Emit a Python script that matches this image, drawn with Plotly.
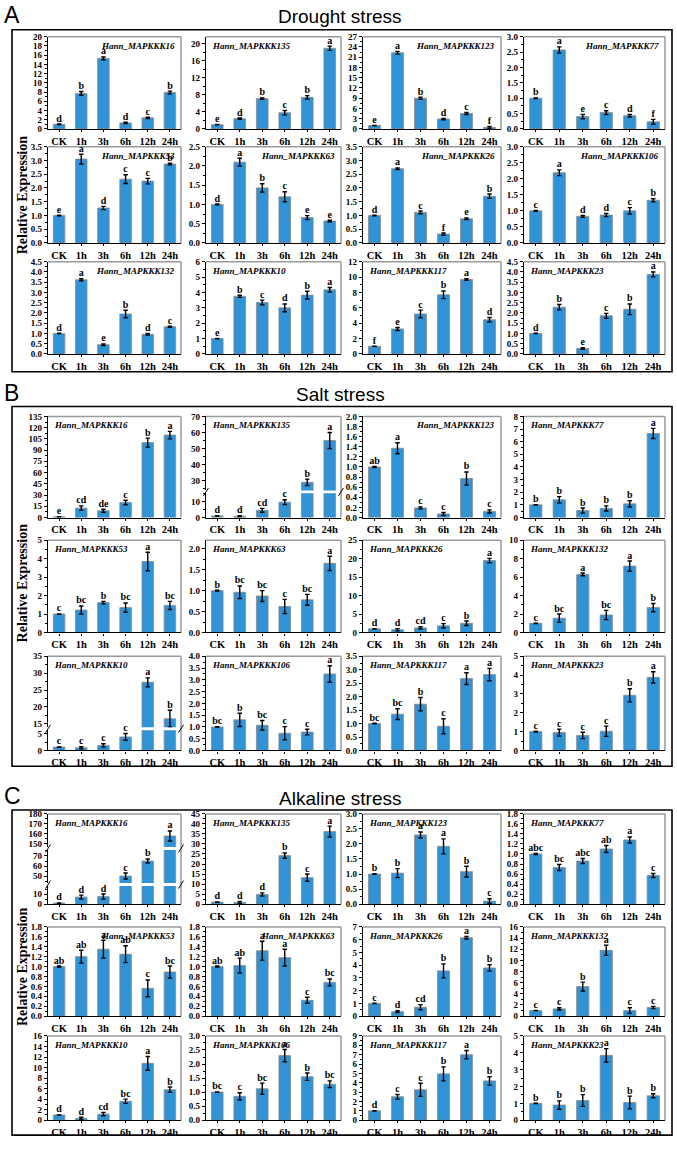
import plotly.graph_objects as go

W, H = 677, 1149
times = ["CK", "1h", "3h", "6h", "12h", "24h"]

# ---------------- Drought ----------------
drought_genes = ["Hann_MAPKKK16", "Hann_MAPKKK135", "Hann_MAPKKK123", "Hann_MAPKKK77",
                 "Hann_MAPKKK53", "Hann_MAPKKK63", "Hann_MAPKKK26", "Hann_MAPKKK106",
                 "Hann_MAPKKK132", "Hann_MAPKKK10", "Hann_MAPKKK117", "Hann_MAPKKK23"]
drought_mean = [[1.0, 7.7, 15.3, 1.3, 2.4, 7.9], [1.0, 2.4, 7.1, 3.8, 7.4, 18.9],
                [1.0, 22.3, 9.0, 2.9, 4.5, 0.4], [1.0, 2.57, 0.40, 0.53, 0.43, 0.23],
                [1.0, 3.05, 1.27, 2.32, 2.25, 2.87], [1.0, 2.1, 1.43, 1.2, 0.66, 0.57],
                [1.0, 2.7, 1.11, 0.32, 0.88, 1.7], [1.0, 2.19, 0.83, 0.87, 1.0, 1.33],
                [1.0, 3.62, 0.45, 1.95, 0.96, 1.33], [1.0, 3.75, 3.35, 3.0, 3.83, 4.17],
                [1.0, 3.25, 5.2, 7.7, 9.7, 4.45], [1.0, 2.28, 0.27, 1.86, 2.18, 3.88]]
drought_err = [[0.05, 0.4, 0.3, 0.15, 0.15, 0.3], [0.05, 0.15, 0.15, 0.5, 0.4, 0.5],
               [0.05, 0.4, 0.3, 0.2, 0.3, 0.3], [0.01, 0.1, 0.07, 0.06, 0.04, 0.08],
               [0.01, 0.18, 0.06, 0.16, 0.1, 0.03], [0.01, 0.1, 0.11, 0.13, 0.05, 0.02],
               [0.01, 0.03, 0.05, 0.04, 0.03, 0.08], [0.01, 0.09, 0.03, 0.05, 0.1, 0.05],
               [0.01, 0.05, 0.04, 0.18, 0.04, 0.03], [0.01, 0.07, 0.15, 0.25, 0.25, 0.15],
               [0.02, 0.2, 0.5, 0.5, 0.1, 0.3], [0.01, 0.13, 0.04, 0.12, 0.26, 0.12]]
drought_sig = [["d", "b", "a", "d", "c", "b"], ["e", "d", "b", "c", "b", "a"],
               ["e", "a", "b", "d", "c", "f"], ["b", "a", "e", "c", "d", "f"],
               ["e", "a", "d", "c", "c", "b"], ["d", "a", "b", "c", "e", "e"],
               ["d", "a", "c", "f", "e", "b"], ["c", "a", "d", "d", "c", "b"],
               ["d", "a", "e", "b", "d", "c"], ["e", "b", "c", "d", "b", "a"],
               ["f", "e", "c", "b", "a", "d"], ["d", "b", "e", "c", "b", "a"]]
drought_yaxis = [[(0, 20, 2)], [(0, 21.6, 4)], [(0, 27, 3)], [(0, 3.0, 0.5)],
                 [(0, 3.5, 0.5)], [(0, 2.5, 0.5)], [(0, 3.5, 0.5)], [(0, 3.0, 0.5)],
                 [(0, 4.5, 0.5)], [(0, 6, 1)], [(0, 12, 2)], [(0, 4.5, 0.5)]]
drought_side = ["r", "l", "r", "r", "r", "r", "r", "r", "r", "l", "l", "l"]

# ---------------- Salt ----------------
salt_genes = ["Hann_MAPKKK16", "Hann_MAPKKK135", "Hann_MAPKKK123", "Hann_MAPKKK77",
              "Hann_MAPKKK53", "Hann_MAPKKK63", "Hann_MAPKKK26", "Hann_MAPKKK132",
              "Hann_MAPKKK10", "Hann_MAPKKK106", "Hann_MAPKKK117", "Hann_MAPKKK23"]
salt_mean = [[0.9, 12.5, 9, 20, 100, 110], [1.0, 0.8, 4.5, 9.5, 29, 55],
             [1.0, 1.37, 0.19, 0.07, 0.77, 0.12], [1.0, 1.4, 0.55, 0.72, 1.08, 6.65],
             [1.0, 1.22, 1.62, 1.35, 3.85, 1.47], [1.0, 0.96, 0.87, 0.62, 0.78, 1.65],
             [1.0, 0.75, 1.25, 1.8, 2.5, 19.5], [1.0, 1.55, 6.3, 1.9, 7.2, 2.7],
             [1.0, 0.8, 1.5, 4.0, 27.3, 16.5], [1.0, 1.3, 1.07, 0.73, 0.78, 3.25],
             [1.0, 1.35, 1.72, 0.9, 2.67, 2.82], [1.0, 0.95, 0.8, 1.02, 2.93, 3.88]]
salt_err = [[0.2, 3, 2, 3, 6, 5], [0.1, 0.3, 1.2, 1.5, 2, 5],
            [0.01, 0.11, 0.02, 0.03, 0.13, 0.03], [0.02, 0.25, 0.2, 0.2, 0.25, 0.4],
            [0.01, 0.22, 0.07, 0.25, 0.5, 0.22], [0.01, 0.15, 0.13, 0.17, 0.13, 0.17],
            [0.05, 0.3, 0.3, 0.6, 0.6, 0.6], [0.02, 0.45, 0.15, 0.5, 0.55, 0.45],
            [0.05, 0.3, 0.5, 1.0, 1.3, 2.5], [0.01, 0.28, 0.2, 0.28, 0.12, 0.35],
            [0.01, 0.2, 0.25, 0.28, 0.22, 0.23], [0.02, 0.18, 0.17, 0.27, 0.35, 0.3]]
salt_sig = [["e", "cd", "de", "c", "b", "a"], ["d", "d", "cd", "c", "b", "a"],
            ["ab", "a", "c", "c", "b", "c"], ["b", "b", "b", "b", "b", "a"],
            ["c", "bc", "b", "bc", "a", "bc"], ["b", "bc", "bc", "c", "bc", "a"],
            ["d", "d", "cd", "c", "b", "a"], ["c", "bc", "a", "bc", "a", "b"],
            ["c", "c", "c", "c", "a", "b"], ["bc", "b", "bc", "c", "c", "a"],
            ["bc", "bc", "b", "c", "a", "a"], ["c", "c", "c", "c", "b", "a"]]
salt_yaxis = [[(0, 135, 15)], [(0, 15, 10), (24, 70, 10)], [(0, 2.0, 0.2)], [(0, 8, 1)],
              [(0, 5, 1)], [(0, 2.2, 0.5)], [(0, 25, 5)], [(0, 10, 2)],
              [(0, 6, 5), (14, 35, 5)], [(0, 4.0, 0.5)], [(0, 3.5, 0.5)], [(0, 5, 1)]]
salt_side = ["l", "l", "r", "l", "l", "l", "l", "l", "l", "l", "l", "l"]

# ---------------- Alkaline ----------------
alk_genes = ["Hann_MAPKKK16", "Hann_MAPKKK135", "Hann_MAPKKK123", "Hann_MAPKKK77",
             "Hann_MAPKKK53", "Hann_MAPKKK63", "Hann_MAPKKK26", "Hann_MAPKKK132",
             "Hann_MAPKKK10", "Hann_MAPKKK106", "Hann_MAPKKK117", "Hann_MAPKKK23"]
alk_mean = [[1.0, 7, 7.5, 50, 65, 158], [1.0, 0.8, 4.8, 24.2, 13.2, 36.2],
            [1.0, 1.03, 2.3, 1.92, 1.08, 0.1], [1.0, 0.73, 0.86, 1.1, 1.28, 0.57],
            [1.0, 1.2, 1.35, 1.25, 0.56, 0.89], [1.0, 1.02, 1.32, 1.18, 0.32, 0.68],
            [1.0, 0.35, 0.7, 3.55, 6.15, 3.78], [1.0, 1.3, 5.3, 11.8, 1.0, 1.55],
            [1.0, 0.35, 1.15, 3.6, 10.8, 5.8], [1.0, 0.85, 1.12, 2.3, 1.55, 1.28],
            [1.0, 2.5, 3.25, 4.95, 7.0, 4.2], [1.0, 0.9, 1.17, 3.85, 1.05, 1.45]]
alk_err = [[0.2, 2, 2.5, 3, 2, 5], [0.1, 0.5, 0.8, 1.3, 1.8, 2.7],
           [0.01, 0.15, 0.1, 0.25, 0.18, 0.08], [0.01, 0.06, 0.05, 0.07, 0.06, 0.04],
           [0.01, 0.13, 0.18, 0.17, 0.17, 0.12], [0.01, 0.15, 0.19, 0.17, 0.06, 0.07],
           [0.02, 0.07, 0.2, 0.55, 0.1, 0.25], [0.02, 0.2, 0.8, 0.9, 0.5, 0.2],
           [0.02, 0.2, 0.3, 0.4, 1.3, 0.5], [0.01, 0.13, 0.2, 0.22, 0.13, 0.12],
           [0.02, 0.25, 0.7, 0.75, 0.45, 0.45], [0.01, 0.25, 0.35, 0.4, 0.38, 0.12]]
alk_sig = [["d", "d", "d", "c", "b", "a"], ["d", "d", "d", "b", "c", "a"],
           ["b", "b", "a", "a", "b", "c"], ["abc", "bc", "abc", "ab", "a", "c"],
           ["ab", "ab", "a", "ab", "c", "bc"], ["ab", "ab", "a", "a", "c", "bc"],
           ["c", "d", "cd", "b", "a", "b"], ["c", "c", "b", "a", "c", "c"],
           ["d", "d", "cd", "bc", "a", "b"], ["bc", "c", "bc", "a", "b", "bc"],
           ["d", "c", "c", "b", "a", "b"], ["b", "b", "b", "a", "b", "b"]]
alk_yaxis = [[(0, 18, 10), (43, 76, 10), (147, 180, 10)], [(0, 45, 5)], [(0, 3.0, 0.5)],
             [(0, 1.8, 0.2)], [(0, 1.8, 0.2)], [(0, 1.8, 0.2)], [(0, 7, 1)], [(0, 16, 2)],
             [(0, 16, 2)], [(0, 3.0, 0.5)], [(0, 9, 1)], [(0, 5, 1)]]
alk_side = ["l", "l", "l", "l", "r", "r", "l", "l", "l", "l", "l", "l"]

# ---------------- layout (pixels) ----------------
COLS = [(48, 181), (206, 341), (363, 501), (524, 665)]
panels = [
    dict(letter="A", title="Drought stress", ty=12, box=(25, 370),
         rows=[(32, 125), (143, 240), (259, 352)],
         genes=drought_genes, mean=drought_mean, err=drought_err, sig=drought_sig,
         yax=drought_yaxis, side=drought_side),
    dict(letter="B", title="Salt stress", ty=393, box=(405, 768),
         rows=[(415, 517), (540, 633), (657, 752)],
         genes=salt_genes, mean=salt_mean, err=salt_err, sig=salt_sig,
         yax=salt_yaxis, side=salt_side),
    dict(letter="C", title="Alkaline stress", ty=800, box=(812, 1140),
         rows=[(816, 907), (930, 1020), (1040, 1125)],
         genes=alk_genes, mean=alk_mean, err=alk_err, sig=alk_sig,
         yax=alk_yaxis, side=alk_side),
]

BAR = "#2F93D5"
SERIF = "Liberation Serif"
SANS = "Liberation Sans"

fig = go.Figure()
layout = {}
shapes = []
annotations = []


def px(x):
    return x / W


def py(y):
    return 1 - y / H


n = 0
for P in panels:
    shapes.append(dict(type="rect", xref="paper", yref="paper", x0=px(12), x1=px(672),
                       y0=py(P["box"][1]), y1=py(P["box"][0]),
                       line=dict(color="black", width=1.6)))
    annotations.append(dict(text=P["title"], x=px(340), y=py(P["ty"]), xref="paper", yref="paper",
                            showarrow=False, font=dict(family=SANS, size=19, color="black"),
                            xanchor="center", yanchor="middle"))
    annotations.append(dict(text=P["letter"], x=px(2), y=py(P["ty"] - 2), xref="paper", yref="paper",
                            showarrow=False, font=dict(family=SANS, size=23, color="black"),
                            xanchor="left", yanchor="middle"))
    annotations.append(dict(text="<b>Relative Expression</b>", x=px(22),
                            y=py((P["rows"][0][0] + P["rows"][2][1]) / 2), xref="paper", yref="paper",
                            showarrow=False, textangle=-90,
                            font=dict(family=SERIF, size=14, color="black"),
                            xanchor="center", yanchor="middle"))
    for i in range(12):
        r, c = divmod(i, 4)
        x0, x1 = COLS[c]
        top, bot = P["rows"][r]
        segs = P["yax"][i]
        mean, err, sig = P["mean"][i], P["err"][i], P["sig"][i]
        tops = [m + e for m, e in zip(mean, err)]
        total = sum(hi - lo for lo, hi, _ in segs)
        gap = 3
        avail = (bot - top) - gap * (len(segs) - 1)
        ycur = bot
        shapes.append(dict(type="line", xref="paper", yref="paper", x0=px(x0), x1=px(x1),
                           y0=py(top), y1=py(top), line=dict(color="#9a9a9a", width=1.5), layer="below"))
        shapes.append(dict(type="line", xref="paper", yref="paper", x0=px(x1), x1=px(x1),
                           y0=py(top), y1=py(bot), line=dict(color="#9a9a9a", width=1.5), layer="below"))
        for k, (lo, hi, dt) in enumerate(segs):
            h = avail * (hi - lo) / total
            sb, st = ycur, ycur - h
            ycur = st - gap
            n += 1
            xs = "" if n == 1 else str(n)
            fmt = ".1f" if dt < 1 else "d"
            layout["xaxis" + xs] = dict(
                domain=[px(x0), px(x1)], anchor="y" + xs, type="category",
                categoryorder="array", categoryarray=times, range=[-0.5, 5.5],
                showline=(k == 0), linecolor="black", linewidth=1.2,
                ticks="outside" if k == 0 else "", ticklen=2, tickcolor="black",
                showticklabels=(k == 0), showgrid=False, zeroline=False,
                tickfont=dict(family=SERIF, size=10.5, color="black", weight="bold"))
            layout["yaxis" + xs] = dict(
                domain=[py(sb), py(st)], anchor="x" + xs, range=[lo, hi],
                tick0=0, dtick=dt, tickformat=fmt,
                showline=True, linecolor="black", linewidth=1.2,
                ticks="outside", ticklen=3, tickcolor="black",
                minor=dict(ticks="outside", ticklen=2, dtick=dt / 2, tickcolor="black"),
                showgrid=False, zeroline=False,
                tickfont=dict(family=SERIF, size=9, color="black", weight="bold"))
            fig.add_trace(go.Bar(
                x=times, y=mean, width=0.52, xaxis="x" + xs, yaxis="y" + xs,
                marker=dict(color=BAR, line=dict(color="#8a8a8a", width=0.8)),
                error_y=dict(type="data", array=err, color="black", thickness=1.4, width=2.2),
                hoverinfo="skip", showlegend=False))
            idx = []
            for j, t in enumerate(tops):
                owner = 0
                for kk, (l2, h2, _) in enumerate(segs):
                    if t >= l2:
                        owner = kk
                if owner == k:
                    idx.append(j)
            if idx:
                fig.add_trace(go.Scatter(
                    x=[times[j] for j in idx], y=[tops[j] for j in idx],
                    text=[sig[j] for j in idx], mode="text", textposition="top center",
                    textfont=dict(family=SERIF, size=10, color="black", weight="bold"),
                    cliponaxis=False, xaxis="x" + xs, yaxis="y" + xs,
                    hoverinfo="skip", showlegend=False))
            if k > 0:
                yb = sb + gap / 2
                for xx in (x0, x1):
                    shapes.append(dict(type="line", xref="paper", yref="paper",
                                       x0=px(xx - 2.5), x1=px(xx + 2.5),
                                       y0=py(yb + 4), y1=py(yb - 4),
                                       line=dict(color="black", width=1)))
        side = P["side"][i]
        annotations.append(dict(
            text="<b><i>" + P["genes"][i] + "</i></b>",
            x=px(x1 - 4) if side == "r" else px(x0 + 4), y=py(top + 9),
            xref="paper", yref="paper", showarrow=False,
            xanchor="right" if side == "r" else "left", yanchor="middle",
            font=dict(family=SERIF, size=9, color="black")))

layout.update(dict(width=W, height=H, margin=dict(l=0, r=0, t=0, b=0),
                   paper_bgcolor="white", plot_bgcolor="white", showlegend=False,
                   shapes=shapes, annotations=annotations, bargap=0.4))
fig.update_layout(**layout)
fig.write_html("out.html")
